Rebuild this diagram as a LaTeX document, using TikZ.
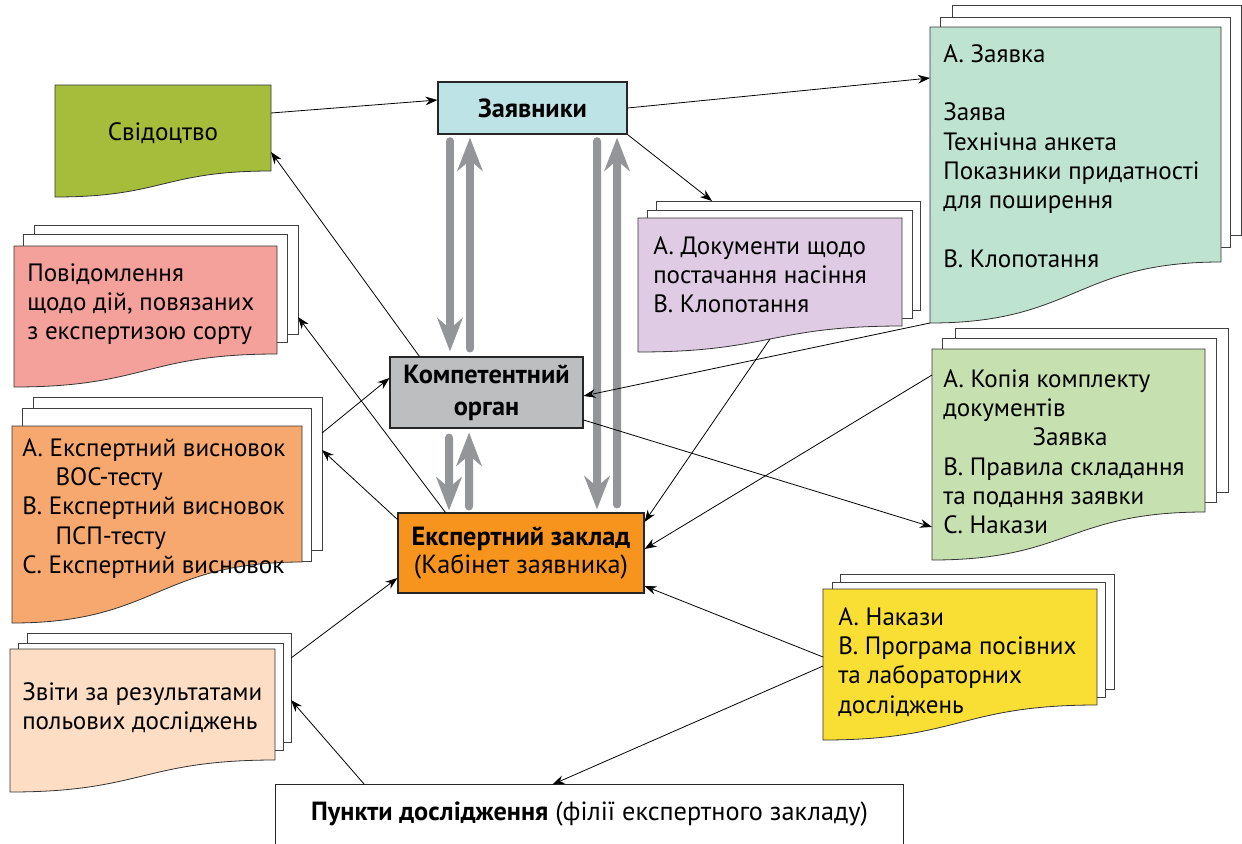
\documentclass[tikz,border=0pt]{standalone}
\usepackage{fontspec}
\setmainfont{PT Sans}
\usetikzlibrary{arrows.meta}
\definecolor{svidc}{HTML}{A6BD3B}
\definecolor{zayavc}{HTML}{BEE3E6}
\definecolor{mintc}{HTML}{BFE3D1}
\definecolor{purplec}{HTML}{DFCBE3}
\definecolor{pinkc}{HTML}{F4A19C}
\definecolor{orangedocc}{HTML}{F7A86E}
\definecolor{peachc}{HTML}{FDDDC4}
\definecolor{kopiac}{HTML}{C6E0B0}
\definecolor{yellowc}{HTML}{F9DF33}
\definecolor{kompc}{HTML}{BCBEC0}
\definecolor{expertc}{HTML}{F7941E}
\definecolor{arrowgray}{HTML}{939598}
\newcommand\fs{\fontsize{18.8}{22}\selectfont}
\newcommand\bfs{\fontsize{19.7}{21}\selectfont}
\newcommand\docback[4]{\draw[sheet] (#1,#2) rectangle (#3,#4);}
\newcommand\docfront[6]{\draw[front, fill=#6] (#1,#2) -- (#3,#2) -- (#3,#4) .. controls ({#3-0.5*(#3-#1)},#4) and ({#1+0.5*(#3-#1)},#5) .. (#1,#5) -- cycle;}
\tikzset{
  sheet/.style={draw=black!75, fill=white, line width=0.6pt},
  front/.style={draw=black!80, line width=0.6pt},
  box/.style={draw=black!85, line width=0.8pt, inner sep=0pt, align=center, font=\bfs},
  txt/.style={anchor=north west, inner sep=0pt, align=left, font=\fs},
  conn/.style={line width=0.6pt, -{Stealth[length=9pt,width=6.5pt]}},
  bigarrow/.style={line width=6pt, draw=arrowgray, line cap=round, -{Stealth[length=25pt,width=19pt,inset=8pt]}}
}
\begin{document}
\begin{tikzpicture}[x=0.75pt,y=-0.75pt]
\useasboundingbox (0,0) rectangle (1242,843);
\fill[white] (0,0) rectangle (1242,843);

% ---- documents ----
% Svidotstvo
\docfront{55}{85}{271}{171}{197}{svidc}
\node[anchor=base, inner sep=0pt, font=\fs] (svidtext) at (163,140) {Свідоцтво};
\coordinate (svid-e) at (271,113);
\coordinate (svid-in) at (271,152);

% A. Zayavka (top right)
\docback{952}{5}{1241}{235}
\docback{940}{17}{1230}{247}
\docfront{930}{27}{1221}{262}{323}{mintc}
\node[txt] (zayavkatext) at (943,41.5) {\strut А. Заявка\\[22pt]Заява\\Технічна анкета\\Показники придатності\\для поширення\\[22pt]В. Клопотання};
\coordinate (green-a-in) at (930,78);
\coordinate (green-a-out) at (930,323);

% Purple
\docback{656}{201}{920}{310}
\docback{647}{210}{912}{318}
\docfront{638}{218}{902}{326}{352}{purplec}
\node[txt] (purpletext) at (653,233.5) {\strut А. Документи щодо\\постачання насіння\\В. Клопотання};
\coordinate (purple-in) at (712,201);
\coordinate (purple-out) at (770,339);

% Pink
\docback{34}{225}{298}{334}
\docback{23}{234}{287}{342}
\docfront{14}{246}{277}{354}{387}{pinkc}
\node[txt] (pinktext) at (27,260.5) {\strut Повідомлення\\щодо дій, повязаних\\з експертизою сорту};
\coordinate (pink-in) at (298,317);

% Orange doc
\docback{33}{397}{322}{550}
\docback{22}{408}{311}{561}
\docfront{12}{426}{302}{562}{623}{orangedocc}
\node[txt] (orangetext) at (22,435.5) {\strut А. Експертний висновок\\\hspace*{25pt}ВОС-тесту\\В. Експертний висновок\\\hspace*{25pt}ПСП-тесту\\С. Експертний висновок};
\coordinate (orange-in) at (322,450);
\coordinate (orange-out) at (322,433);

% Peach
\docback{27}{633}{291}{742}
\docback{18}{643}{283}{750}
\docfront{10}{649}{275}{760}{792}{peachc}
\node[txt] (peachtext) at (22,679.5) {\strut Звіти за результатами\\польових досліджень};
\coordinate (peach-out) at (291,658);
\coordinate (peach-in) at (291,700);

% Kopia
\docback{955}{328}{1228}{492}
\docback{942}{338}{1216}{502}
\docfront{932}{349}{1205}{512}{560}{kopiac}
\node[txt] (kopiatext) at (943,366.5) {\strut А. Копія комплекту\\документів\\\hspace*{67pt}Заявка\\В. Правила складання\\та подання заявки\\С. Накази};
\coordinate (kopia-in) at (932,527);
\coordinate (kopia-out) at (932,375);

% Yellow
\docback{840}{574}{1114}{689}
\docback{832}{582}{1105}{697}
\docfront{823}{589}{1097}{705}{740}{yellowc}
\node[txt] (yellowtext) at (838,604.5) {\strut А. Накази\\В. Програма посівних\\та лабораторних\\досліджень};
\coordinate (yellow-out1) at (823,657);
\coordinate (yellow-out2) at (823,666);

% ---- boxes ----
\node[box, fill=zayavc, minimum width=141.75pt, minimum height=39pt] (zayav) at (532.5,108) {\textbf{Заявники}};
\node[box, fill=kompc, minimum width=144.75pt, minimum height=53.25pt] (komp) at (486.5,392.5) {\textbf{Компетентний}\\[3pt]\textbf{орган}};
\node[box, fill=expertc, minimum width=184.5pt, minimum height=60pt] (expert) at (521,553) {\textbf{Експертний заклад}\\(Кабінет заявника)};
\node[box, draw=none, fill=white, minimum width=470.25pt, minimum height=43.5pt] (punkty) at (589.5,814) {\textbf{Пункти дослідження} (філії експертного закладу)};
\draw[black!85, line width=0.8pt] (punkty.south west) |- (punkty.north east) -- (punkty.south east);

% ---- gray double arrows ----
\draw[bigarrow] ([xshift=-61.9pt,yshift=-5pt]zayav.south) -- ([xshift=-27.4pt,yshift=3.8pt]komp.north);
\draw[bigarrow] ([xshift=-12.4pt,yshift=6pt]komp.north) -- ([xshift=-46.9pt,yshift=-2.3pt]zayav.south);
\draw[bigarrow] ([xshift=48.4pt,yshift=-5pt]zayav.south) -- ([xshift=57pt,yshift=2.3pt]expert.north);
\draw[bigarrow] ([xshift=72pt,yshift=6pt]expert.north) -- ([xshift=63.4pt,yshift=-2.3pt]zayav.south);
\draw[bigarrow] ([xshift=-28.1pt,yshift=-6.8pt]komp.south) -- ([xshift=-54pt,yshift=1.5pt]expert.north);
\draw[bigarrow] ([xshift=-39pt,yshift=4.5pt]expert.north) -- ([xshift=-13.1pt,yshift=-3pt]komp.south);

% ---- thin connectors ----
\draw[conn] (svid-e) -- ([yshift=6pt]zayav.west);
\draw[conn] (zayav.east) -- (green-a-in);
\draw[conn] (zayav.south east) -- (purple-in);
\draw[conn] ([xshift=22.5pt]komp.north west) -- (svid-in);
\draw[conn] (green-a-out) -- ([yshift=-2.6pt]komp.east);
\draw[conn] ([yshift=-20.6pt]komp.east) -- (kopia-in);
\draw[conn] ([xshift=36pt]expert.north west) -- (pink-in);
\draw[conn] ([yshift=-5.25pt]expert.north west) -- (orange-in);
\draw[conn] (orange-out) -- ([yshift=10.9pt]komp.west);
\draw[conn] (peach-out) -- ([yshift=-18.75pt]expert.west);
\draw[conn] ([xshift=66.75pt]punkty.north west) -- (peach-in);
\draw[conn] (yellow-out1) -- ([yshift=-24.75pt]expert.east);
\draw[conn] (yellow-out2) -- ([xshift=207.75pt]punkty.north west);
\draw[conn] (kopia-out) -- ([yshift=3pt]expert.east);
\draw[conn] (purple-out) -- ([yshift=23.25pt]expert.east);
\end{tikzpicture}
\end{document}
